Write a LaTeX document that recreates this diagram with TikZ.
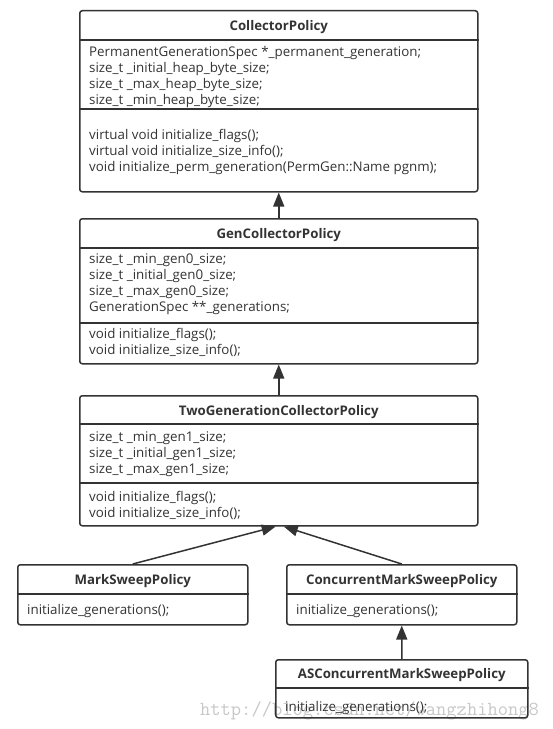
\documentclass[tikz,border=0pt]{standalone}
\usepackage{fontspec}
\setmainfont{Open Sans}
\usetikzlibrary{arrows.meta}
\definecolor{umlline}{HTML}{333333}
\tikzset{
  classbox/.style={draw=umlline, line width=1.5bp, rounded corners=2.5bp, anchor=north west, inner sep=0pt},
  classname/.style={anchor=base, text=umlline, inner sep=0pt, font=\bfseries\fontsize{13.3}{15}\selectfont},
  members/.style={anchor=north west, align=left, text=umlline, inner sep=0pt, font=\fontsize{13.4}{15.9}\selectfont},
  inherit/.style={draw=umlline, line width=1.5bp, -{Triangle[length=14bp,width=11bp]}},
  watermark/.style={anchor=base west, inner sep=0pt, text=black!22, font=\ttfamily\fontsize{20}{21}\selectfont}
}
\newcommand{\classsep}[2]{\draw[umlline, line width=1.5bp] ([yshift=-#2]#1.north west) -- ([yshift=-#2]#1.north east);}
\begin{document}
\begin{tikzpicture}[x=1bp,y=-1bp]
\useasboundingbox (0,0) rectangle (553,729);
\node[watermark] (wm) at (200,715) {http://blog.csdn.net/wangzhihong8};

\node[classbox, minimum width=398bp, minimum height=181bp] (collector) at (79,10) {};
\node[classname] (collectorname) at ([yshift=-20.5bp]collector.north) {CollectorPolicy};
\classsep{collector}{30bp}
\classsep{collector}{99bp}
\node[members] (collectorfields) at ([xshift=10bp,yshift=-36.5bp]collector.north west)
  {PermanentGenerationSpec *\_permanent\_generation;\\size\_t \_initial\_heap\_byte\_size;\\size\_t \_max\_heap\_byte\_size;\\size\_t \_min\_heap\_byte\_size;};
\node[members] (collectormethods) at ([xshift=10bp,yshift=-119.5bp]collector.north west)
  {virtual void initialize\_flags();\\virtual void initialize\_size\_info();\\void initialize\_perm\_generation(PermGen::Name pgnm);};

\node[classbox, minimum width=398bp, minimum height=145bp] (gen) at (79,218) {};
\node[classname] (genname) at ([yshift=-20.5bp]gen.north) {GenCollectorPolicy};
\classsep{gen}{30bp}
\classsep{gen}{105bp}
\node[members] (genfields) at ([xshift=10bp,yshift=-35.5bp]gen.north west)
  {size\_t \_min\_gen0\_size;\\size\_t \_initial\_gen0\_size;\\size\_t \_max\_gen0\_size;\\GenerationSpec **\_generations;};
\node[members] (genmethods) at ([xshift=10bp,yshift=-110.5bp]gen.north west)
  {void initialize\_flags();\\void initialize\_size\_info();};

\node[classbox, minimum width=398bp, minimum height=130bp] (twogen) at (79,395) {};
\node[classname] (twogenname) at ([yshift=-20.5bp]twogen.north) {TwoGenerationCollectorPolicy};
\classsep{twogen}{29bp}
\classsep{twogen}{88bp}
\node[members] (twogenfields) at ([xshift=10bp,yshift=-36.5bp]twogen.north west)
  {size\_t \_min\_gen1\_size;\\size\_t \_initial\_gen1\_size;\\size\_t \_max\_gen1\_size;};
\node[members] (twogenmethods) at ([xshift=10bp,yshift=-96.5bp]twogen.north west)
  {void initialize\_flags();\\void initialize\_size\_info();};

\node[classbox, minimum width=230bp, minimum height=60bp] (marksweep) at (17,564) {};
\node[classname] (marksweepname) at ([yshift=-20.5bp]marksweep.north) {MarkSweepPolicy};
\classsep{marksweep}{30bp}
\node[members] (marksweepmethods) at ([xshift=10bp,yshift=-40.5bp]marksweep.north west) {initialize\_generations();};

\node[classbox, minimum width=230bp, minimum height=60bp] (concurrent) at (286,564) {};
\node[classname] (concurrentname) at ([yshift=-20.5bp]concurrent.north) {ConcurrentMarkSweepPolicy};
\classsep{concurrent}{30bp}
\node[members] (concurrentmethods) at ([xshift=10bp,yshift=-40.5bp]concurrent.north west) {initialize\_generations();};

\node[classbox, minimum width=252bp, minimum height=58bp] (asconcurrent) at (275,659) {};
\node[classname] (asconcurrentname) at ([yshift=-19.5bp]asconcurrent.north) {ASConcurrentMarkSweepPolicy};
\classsep{asconcurrent}{29bp}
\node[members] (asconcurrentmethods) at ([xshift=10bp,yshift=-42.5bp]asconcurrent.north west) {initialize\_generations();};

\draw[inherit] (gen.north) -- (collector.south);
\draw[inherit] (twogen.north) -- (gen.south);
\draw[inherit] (marksweep.north) -- ([xshift=-3bp]twogen.south);
\draw[inherit] (concurrent.north) -- ([xshift=5bp]twogen.south);
\draw[inherit] (asconcurrent.north) -- (concurrent.south);
\end{tikzpicture}
\end{document}
